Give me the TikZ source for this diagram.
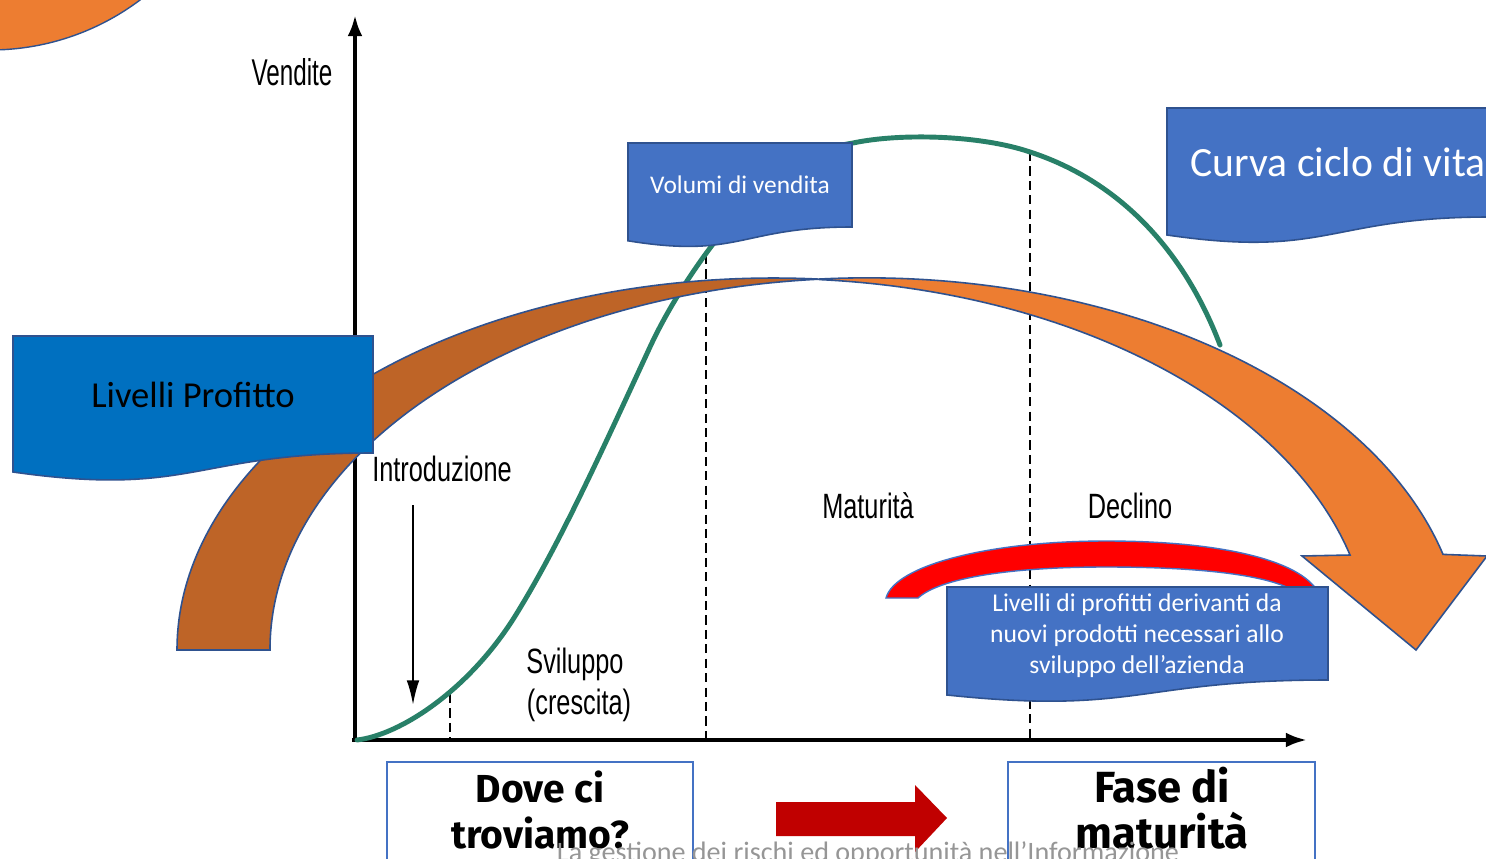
\documentclass[tikz,border=0pt]{standalone}
\usepackage{fontspec}
\usetikzlibrary{arrows.meta}
\setmainfont{Carlito}
\newfontfamily\narrowfont[FakeStretch=0.72]{Liberation Sans}
\newfontfamily\narrowfontv[FakeStretch=0.65]{Liberation Sans}
\newfontfamily\boldboxfont{Fira Sans}
\definecolor{boxblue}{HTML}{4472C4}
\definecolor{boxedge}{HTML}{2F528F}
\definecolor{profblue}{HTML}{0070C0}
\definecolor{brownband}{HTML}{BE6427}
\definecolor{orangeband}{HTML}{ED7D31}
\definecolor{redarc}{HTML}{FF0000}
\definecolor{darkred}{HTML}{C00000}
\definecolor{curvegreen}{RGB}{40,128,104}
\definecolor{footgray}{RGB}{150,150,150}
\begin{document}
\begin{tikzpicture}[x=0.01cm,y=-0.01cm,
  lbl/.style={font=\narrowfont\fontsize{10pt}{12pt}\selectfont, inner sep=0pt, anchor=base},
  wavebox/.style={fill=boxblue, draw=boxedge, line width=0.45pt},
  band/.style={draw=boxedge, line width=0.45pt},
  dashv/.style={line width=0.8pt, dash pattern=on 2.6pt off 1.5pt},
  axis/.style={line width=1.1pt, -{Latex[length=6pt,width=4.2pt]}},
  wtxt/.style={text=white, inner sep=0pt, anchor=base},
  bold/.style={font=\boldboxfont\bfseries, inner sep=0pt, anchor=base},
]
\useasboundingbox (0,0) rectangle (1486,858);
\clip (0,0) rectangle (1486,858);
\fill[white] (0,0) rectangle (1486,858);

% top-left orange circle
\draw[fill=orangeband, draw=boxedge, line width=0.4pt] (-10,-200) circle[radius=250];

% axes
\coordinate (ybot) at (355,742);
\coordinate (ytop) at (355,15);
\coordinate (xbeg) at (352,740);
\coordinate (xend) at (1307,740);
\draw[axis] (ybot) -- (ytop);
\draw[axis] (xbeg) -- (xend);

% dashed phase separators
\coordinate (d1a) at (450,694); \coordinate (d1b) at (450,740);
\coordinate (d2a) at (706,255); \coordinate (d2b) at (706,740);
\coordinate (d3a) at (1030,152); \coordinate (d3b) at (1030,740);
\draw[dashv] (d1a) -- (d1b);
\draw[dashv] (d2a) -- (d2b);
\draw[dashv] (d3a) -- (d3b);

% chart labels
\node[lbl, font=\narrowfontv\fontsize{10.6pt}{12pt}\selectfont] (vendite) at (292,86) {Vendite};
\node[lbl] (intro) at (442,481) {Introduzione};
\node[lbl] (matur) at (868,518) {Maturità};
\node[lbl] (declino) at (1130,518) {Declino};
\node[lbl] (svil) at (575,673) {Sviluppo};
\node[lbl] (cresc) at (579,714) {(crescita)};

% introduction arrow
\coordinate (ia) at (413,505);
\coordinate (ib) at (413,705);
\draw[line width=0.6pt, -{Latex[length=7pt,width=3.6pt]}] (ia) -- (ib);

% sales curve
\draw[curvegreen, line width=1.4pt, line cap=round] (357,740)
  .. controls (400,735) and (470,690) .. (517,613)
  .. controls (560,543) and (600,455) .. (650,347)
  .. controls (680,282) and (740,200) .. (790,165)
  .. controls (815,150) and (830,147) .. (853,143)
  .. controls (900,133) and (980,135) .. (1030,152)
  .. controls (1110,178) and (1180,240) .. (1220,345);

% curved profit arrow: brown underside
\path[fill=brownband, band] (177,650)
  arc[start angle=180, end angle=274.47, x radius=596.5, y radius=372]
  arc[start angle=265.53, end angle=180, x radius=596.5, y radius=372] -- cycle;
% orange top side with head
\path[fill=orangeband, band] (820,279)
  arc[start angle=265.53, end angle=345.13, x radius=596.5, y radius=372]
  -- (1487,556) -- (1416,650) -- (1302,556) -- (1350,555)
  arc[start angle=345.13, end angle=274.47, x radius=596.5, y radius=372] -- cycle;

% Livelli Profitto box
\path[fill=profblue, draw=boxedge, line width=0.45pt] (13,336) -- (373,336) -- (373,453)
  .. controls (193,453) and (193,497.6) .. (13,472) -- cycle;
\node[inner sep=0pt, anchor=base, font=\fontsize{10.4pt}{12pt}\selectfont] (profitto) at (193,407) {Livelli Profitto};

% Volumi di vendita box
\path[wavebox] (628,143) -- (852,143) -- (852,227)
  .. controls (740,227) and (740,259) .. (628,240.8) -- cycle;
\node[wtxt, font=\fontsize{7.23pt}{9pt}\selectfont] (volumi) at (740,194) {Volumi di vendita};

% Curva ciclo di vita box
\path[wavebox] (1167,108) -- (1490,108) -- (1490,217)
  .. controls (1328,217) and (1328,258.6) .. (1167,235) -- cycle;
\node[wtxt, anchor=base west, font=\fontsize{11.84pt}{14pt}\selectfont] (curva) at (1190,177) {Curva ciclo di vita};

% red arc
\path[fill=redarc, draw=boxblue, line width=0.4pt] (886,598)
  .. controls (895,565) and (990,541) .. (1106,541)
  .. controls (1220,541) and (1300,560) .. (1318,592)
  -- (1296,592)
  .. controls (1270,575) and (1200,567) .. (1106,567)
  .. controls (1010,567) and (940,578) .. (918,598) -- cycle;

% new products box
\path[wavebox] (947,587) -- (1328,587) -- (1328,680)
  .. controls (1137,680) and (1137,715) .. (947,695) -- cycle;
\node[wtxt, font=\fontsize{7.28pt}{9pt}\selectfont] (prof1) at (1137,611) {Livelli di profitti derivanti da};
\node[wtxt, font=\fontsize{7.28pt}{9pt}\selectfont] (prof2) at (1137,642) {nuovi prodotti necessari allo};
\node[wtxt, font=\fontsize{7.28pt}{9pt}\selectfont] (prof3) at (1137,673) {sviluppo dell’azienda};

% bottom boxes
\draw[fill=white, draw=boxblue, line width=0.55pt] (387,762) rectangle (693,880);
\draw[fill=white, draw=boxblue, line width=0.55pt] (1008,762) rectangle (1315,880);
\node[bold, font=\boldboxfont\bfseries\fontsize{11.1pt}{13pt}\selectfont] (dove1) at (540,802) {Dove ci};
\node[bold, font=\boldboxfont\bfseries\fontsize{11.1pt}{13pt}\selectfont] (dove2) at (540,848) {troviamo?};
\node[bold, font=\boldboxfont\bfseries\fontsize{12.4pt}{14pt}\selectfont] (fase1) at (1162,802) {Fase di};
\node[bold, font=\boldboxfont\bfseries\fontsize{12.4pt}{14pt}\selectfont] (fase2) at (1162,848) {maturità};

% red block arrow
\fill[darkred] (776,802) -- (915,802) -- (915,785) -- (947,818) -- (915,852) -- (915,836) -- (776,836) -- cycle;

% footer
\node[inner sep=0pt, anchor=base, text=footgray, font=\fontsize{8pt}{10pt}\selectfont] (footer) at (868,861) {La gestione dei rischi ed opportunità nell’Informazione};
\end{tikzpicture}
\end{document}
